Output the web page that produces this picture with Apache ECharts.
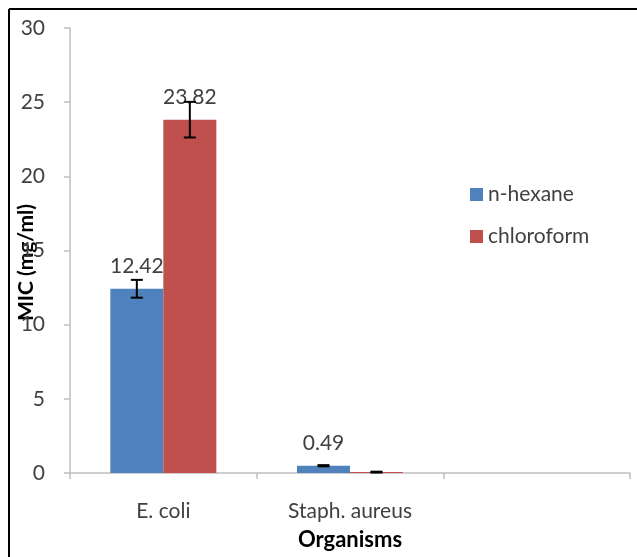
<!DOCTYPE html>
<html><head><meta charset="utf-8">
<script src="https://cdn.jsdelivr.net/npm/echarts@6/dist/echarts.min.js"></script>
<style>html,body{margin:0;padding:0;background:#fff}#c{width:637px;height:557px}</style>
</head><body><div id="c"></div>
<script>
const categories = ['E. coli', 'Staph. aureus', ''];
const hexane = [12.42, 0.49, null];
const chloroform = [23.82, 0.06, null];
const hexaneErr = [0.6, 0.04, null];
const chloroformErr = [1.2, 0.03, null];
const hexaneLabels = ['12.42', '0.49', ''];
const chloroformLabels = ['23.82', '', ''];
const yTicks = { min: 0, max: 30, interval: 5 };

const BAR_W = 53;
const font = 'Lato, "Open Sans", sans-serif';

function errData(vals, errs) {
  const out = [];
  vals.forEach((v, i) => { if (v != null) out.push([i, v - errs[i], v + errs[i]]); });
  return out;
}
function errRender(offset) {
  return function (params, api) {
    const i = api.value(0);
    const lo = api.coord([i, api.value(1)]);
    const hi = api.coord([i, api.value(2)]);
    const x = lo[0] + offset;
    const cap = 6;
    const style = { stroke: '#000', lineWidth: 2 };
    return { type: 'group', children: [
      { type: 'line', shape: { x1: x, y1: hi[1], x2: x, y2: lo[1] }, style },
      { type: 'line', shape: { x1: x - cap, y1: hi[1], x2: x + cap, y2: hi[1] }, style },
      { type: 'line', shape: { x1: x - cap, y1: lo[1], x2: x + cap, y2: lo[1] }, style }
    ]};
  };
}
function labelFmt(labels) { return p => labels[p.dataIndex]; }

const chart = echarts.init(document.getElementById('c'));
chart.setOption({
  animation: false,
  textStyle: { fontFamily: font },
  grid: { left: 70, right: 7, top: 28, bottom: 84, outerBoundsMode: 'none', containLabel: false },
  graphic: [
    { type: 'line', shape: { x1: 9, y1: 9, x2: 637, y2: 9 }, style: { stroke: '#000', lineWidth: 2 } },
    { type: 'line', shape: { x1: 9, y1: 9, x2: 9, y2: 557 }, style: { stroke: '#000', lineWidth: 2 } }
  ],
  legend: {
    orient: 'vertical', left: 465, top: 179, itemWidth: 13, itemHeight: 13, itemGap: 21,
    icon: 'rect', textStyle: { fontSize: 21, color: '#404040', fontFamily: font },
    data: ['n-hexane', 'chloroform']
  },
  xAxis: {
    type: 'category', data: categories,
    name: 'Organisms', nameLocation: 'middle', nameGap: 56, nameMoveOverlap: false,
    nameTextStyle: { fontSize: 22, fontWeight: 'bold', color: '#000', fontFamily: font },
    axisLine: { lineStyle: { color: '#bfbfbf', width: 1.5 } },
    axisTick: { show: true, length: 6, lineStyle: { color: '#bfbfbf', width: 1.5 } },
    axisLabel: { fontSize: 21, color: '#404040', margin: 28, interval: 0 }
  },
  yAxis: {
    type: 'value', min: yTicks.min, max: yTicks.max, interval: yTicks.interval,
    name: 'MIC (mg/ml)', nameLocation: 'middle', nameGap: 33, nameRotate: 90, nameMoveOverlap: false,
    nameTextStyle: { fontSize: 21, fontWeight: 'bold', color: '#000', fontFamily: font, padding: [0, 0, 0, -24] },
    splitLine: { show: false },
    axisLine: { show: true, lineStyle: { color: '#bfbfbf', width: 1.5 } },
    axisTick: { show: true, length: 6, lineStyle: { color: '#bfbfbf', width: 1.5 } },
    axisLabel: { fontSize: 21, color: '#404040', margin: 25 }
  },
  series: [
    { name: 'n-hexane', type: 'bar', data: hexane, barWidth: BAR_W, barGap: '0%',
      itemStyle: { color: '#4F81BD' },
      label: { show: true, position: 'top', distance: 12, fontSize: 21, color: '#404040', formatter: labelFmt(hexaneLabels) } },
    { name: 'chloroform', type: 'bar', data: chloroform, barWidth: BAR_W, barGap: '0%',
      itemStyle: { color: '#C0504D' },
      label: { show: true, position: 'top', distance: 12, fontSize: 21, color: '#404040', formatter: labelFmt(chloroformLabels) } },
    { type: 'custom', renderItem: errRender(-BAR_W / 2), data: errData(hexane, hexaneErr), z: 10, silent: true },
    { type: 'custom', renderItem: errRender(BAR_W / 2), data: errData(chloroform, chloroformErr), z: 10, silent: true }
  ]
});
</script></body></html>
